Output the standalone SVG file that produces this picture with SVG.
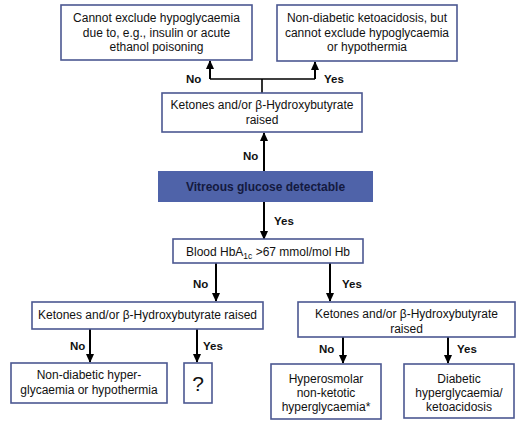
<svg xmlns="http://www.w3.org/2000/svg" width="521" height="422" viewBox="0 0 521 422">
<defs>
<marker id="ah" markerUnits="userSpaceOnUse" markerWidth="9" markerHeight="10" refX="8" refY="4" orient="auto">
<path d="M0,0 L9,4 L0,8 Z" fill="#000"/>
</marker>
<style>
.box{fill:#fff;stroke:#4b5891;stroke-width:1.6}
.t{font-family:"Liberation Sans",Arial,sans-serif;font-size:12px;fill:#111;text-anchor:middle}
.lbl{font-family:"Liberation Sans",Arial,sans-serif;font-size:11.5px;font-weight:bold;fill:#111}
.c{fill:none;stroke:#000;stroke-width:2}
.ca{fill:none;stroke:#000;stroke-width:2;marker-end:url(#ah)}
</style>
</defs>
<rect width="521" height="422" fill="#fff"/>
<g id="connectors">
<path class="c" d="M262,93 V79 M210,79 H315" style="stroke-width:1.6"/>
<path class="ca" d="M210,79 V61"/>
<path class="ca" d="M315,79 V62"/>
<path class="ca" d="M264,171 V133"/>
<path class="ca" d="M264,202 V239"/>
<path class="c" d="M216,263 V270"/>
<path class="ca" d="M216,270 V301"/>
<path class="ca" d="M330,263 V301"/>
<path class="ca" d="M90,329 V362"/>
<path class="ca" d="M197,329 V362"/>
<path class="ca" d="M343,337 V363"/>
<path class="ca" d="M448,337 V363"/>
<text class="lbl" x="186" y="83">No</text>
<text class="lbl" x="324" y="83">Yes</text>
<text class="lbl" x="243" y="160">No</text>
<text class="lbl" x="274" y="225">Yes</text>
<text class="lbl" x="193" y="288">No</text>
<text class="lbl" x="342" y="288">Yes</text>
<text class="lbl" x="70" y="350">No</text>
<text class="lbl" x="203" y="350">Yes</text>
<text class="lbl" x="319" y="353">No</text>
<text class="lbl" x="457" y="353">Yes</text>
</g>
<g id="n1">
<rect class="box" x="61" y="5" width="191" height="55"/>
<text class="t" x="156.5" y="22">Cannot exclude hypoglycaemia</text>
<text class="t" x="156.5" y="37">due to, e.g., insulin or acute</text>
<text class="t" x="156.5" y="51">ethanol poisoning</text>
</g>
<g id="n2">
<rect class="box" x="277" y="5" width="180" height="56"/>
<text class="t" x="367" y="22">Non-diabetic ketoacidosis, but</text>
<text class="t" x="367" y="37">cannot exclude hypoglycaemia</text>
<text class="t" x="367" y="51">or hypothermia</text>
</g>
<g id="n3">
<rect class="box" x="162" y="93" width="200" height="39"/>
<text class="t" x="262" y="109">Ketones and/or β-Hydroxybutyrate</text>
<text class="t" x="262" y="124">raised</text>
</g>
<g id="n4">
<rect x="158" y="171" width="215" height="31" fill="#4f63a9"/>
<text class="t" x="265.5" y="191" style="font-weight:bold;fill:#141a40">Vitreous glucose detectable</text>
</g>
<g id="n5">
<rect class="box" x="173" y="239" width="190" height="24"/>
<text class="t" x="268" y="256">Blood HbA<tspan dy="3" font-size="8.5">1c</tspan><tspan dy="-3"> &gt;67 mmol/mol Hb</tspan></text>
</g>
<g id="n6">
<rect class="box" x="32" y="302" width="231" height="27"/>
<text class="t" x="147.5" y="319">Ketones and/or β-Hydroxybutyrate raised</text>
</g>
<g id="n7">
<rect class="box" x="298" y="302" width="217" height="35"/>
<text class="t" x="406.5" y="318">Ketones and/or β-Hydroxybutyrate</text>
<text class="t" x="406.5" y="333">raised</text>
</g>
<g id="n8">
<rect class="box" x="11" y="363" width="156" height="40"/>
<text class="t" x="89" y="379">Non-diabetic hyper-</text>
<text class="t" x="89" y="394">glycaemia or hypothermia</text>
</g>
<g id="n9">
<rect class="box" x="184" y="363" width="28" height="40"/>
<text class="t" x="198" y="391" style="font-size:21px">?</text>
</g>
<g id="n10">
<rect class="box" x="271" y="364" width="110" height="55"/>
<text class="t" x="326" y="383">Hyperosmolar</text>
<text class="t" x="326" y="397">non-ketotic</text>
<text class="t" x="326" y="411">hyperglycaemia*</text>
</g>
<g id="n11">
<rect class="box" x="404" y="364" width="110" height="54"/>
<text class="t" x="459" y="383">Diabetic</text>
<text class="t" x="459" y="397">hyperglycaemia/</text>
<text class="t" x="459" y="411">ketoacidosis</text>
</g>
</svg>
